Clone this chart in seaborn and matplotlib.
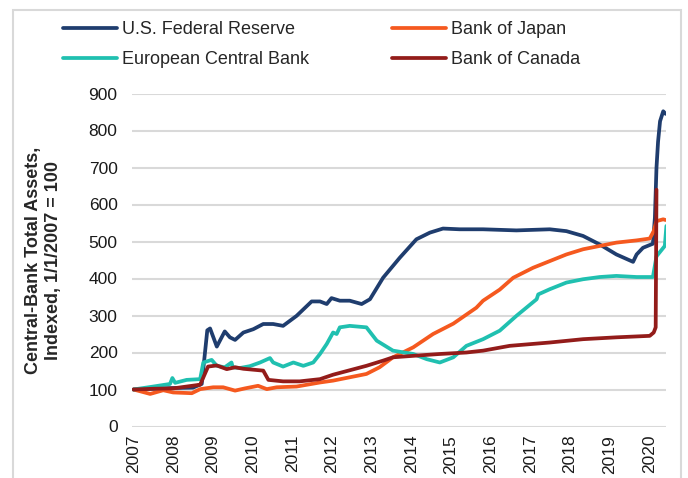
import pandas as pd
import matplotlib.pyplot as plt
import matplotlib.patches as mpatches
import seaborn as sns

# values (year as decimal, index 1/1/2007 = 100)
fed_x = [2007.0, 2007.5, 2008.0, 2008.5, 2008.72, 2008.86, 2008.93, 2009.10, 2009.30, 2009.43,
         2009.56, 2009.77, 2010.02, 2010.27, 2010.52, 2010.77, 2011.11, 2011.49, 2011.70, 2011.87,
         2011.99, 2012.20, 2012.45, 2012.75, 2012.96, 2013.29, 2013.71, 2014.13, 2014.47, 2014.80,
         2015.22, 2015.81, 2016.65, 2017.49, 2017.91, 2018.33, 2018.75, 2019.17, 2019.59, 2019.68,
         2019.84, 2020.09, 2020.14, 2020.18, 2020.22, 2020.27, 2020.35, 2020.41]
fed_y = [100, 102, 104, 105, 115, 260, 265, 216, 257, 241,
         234, 254, 263, 277, 277, 272, 299, 338, 338, 331,
         347, 340, 340, 331, 344, 402, 456, 506, 524, 535,
         533, 533, 530, 533, 528, 515, 492, 465, 445, 465,
         483, 494, 564, 699, 770, 825, 852, 845]

boj_x = [2007.0, 2007.42, 2007.75, 2008.0, 2008.47, 2008.68, 2009.01, 2009.26, 2009.56, 2009.81,
         2010.14, 2010.36, 2010.61, 2011.11, 2011.70, 2012.03, 2012.87, 2013.20, 2013.54, 2014.05,
         2014.55, 2015.06, 2015.64, 2015.81, 2016.23, 2016.57, 2017.07, 2017.49, 2017.91, 2018.33,
         2018.75, 2019.17, 2019.68, 2020.01, 2020.11, 2020.18, 2020.35, 2020.41]
boj_y = [100, 88, 98, 92, 90, 101, 106, 106, 97, 103,
         110, 101, 106, 108, 119, 124, 142, 160, 187, 214,
         250, 278, 321, 340, 370, 402, 429, 447, 465, 479,
         488, 497, 503, 508, 528, 555, 560, 558]

ecb_x = [2007.0, 2007.50, 2007.92, 2007.98, 2008.05, 2008.34, 2008.68, 2008.76, 2008.97, 2009.10,
         2009.30, 2009.47, 2009.50, 2009.68, 2009.93, 2010.19, 2010.44, 2010.52, 2010.77, 2011.03,
         2011.28, 2011.53, 2011.70, 2011.87, 2012.03, 2012.12, 2012.20, 2012.45, 2012.87, 2013.13,
         2013.54, 2014.05, 2014.39, 2014.72, 2015.06, 2015.39, 2015.81, 2016.23, 2016.65, 2017.16,
         2017.20, 2017.49, 2017.91, 2018.33, 2018.75, 2019.17, 2019.68, 2020.09, 2020.18, 2020.39,
         2020.43]
ecb_y = [100, 108, 115, 131, 118, 126, 128, 173, 180, 164,
         160, 173, 160, 158, 163, 173, 185, 173, 162, 173,
         164, 173, 196, 223, 254, 250, 268, 272, 268, 232,
         205, 196, 182, 173, 187, 218, 236, 259, 299, 344,
         357, 371, 389, 398, 404, 407, 404, 404, 460, 488,
         542]

boc_x = [2007.0, 2007.5, 2008.0, 2008.34, 2008.68, 2008.88, 2009.10, 2009.35, 2009.56, 2009.77,
         2010.27, 2010.40, 2010.77, 2011.19, 2011.70, 2012.03, 2012.87, 2013.29, 2013.54, 2014.05,
         2014.72, 2015.39, 2015.81, 2016.48, 2017.49, 2018.33, 2019.17, 2020.01, 2020.11, 2020.16,
         2020.18]
boc_y = [100, 102, 103, 108, 113, 162, 165, 155, 160, 156,
         151, 126, 122, 122, 128, 140, 164, 178, 187, 191,
         196, 200, 205, 218, 227, 236, 241, 245, 254, 268,
         640]

banks = ["U.S. Federal Reserve", "Bank of Japan", "European Central Bank", "Bank of Canada"]
colors = ["#1F3D6E", "#F5591F", "#20C0B0", "#931C1A"]
years = list(range(2007, 2021))

frames = []
for name, xs, ys in zip(banks, [fed_x, boj_x, ecb_x, boc_x], [fed_y, boj_y, ecb_y, boc_y]):
    frames.append(pd.DataFrame({"year": xs, "value": ys, "bank": name}))
df = pd.concat(frames, ignore_index=True)

sns.set_style("white")
plt.rcParams["font.family"] = ["Liberation Sans", "DejaVu Sans"]

fig = plt.figure(figsize=(6.88, 4.78), dpi=100)
ax = fig.add_axes([131.5 / 688, 1 - 426.5 / 478, (666 - 131.5) / 688, 333 / 478])

sns.lineplot(data=df, x="year", y="value", hue="bank", hue_order=banks,
             palette=dict(zip(banks, colors)), estimator=None, sort=False,
             linewidth=2.7, legend=False, ax=ax)

ax.set_xlim(2006.95, 2020.42)
ax.set_ylim(0, 900)
ax.set_yticks(range(0, 901, 100))
ax.set_xticks(years)
ax.set_xticklabels([str(y) for y in years], rotation=90)
ax.tick_params(axis="y", length=0, pad=10, labelsize=12.5, colors="#1a1a1a")
ax.tick_params(axis="x", length=0, pad=6, labelsize=12.5, colors="#1a1a1a")
ax.yaxis.grid(True, color="#d9d9d9", linewidth=1.5)
ax.set_axisbelow(True)
for s in ax.spines.values():
    s.set_visible(False)
ax.set_xlabel("")
ax.set_ylabel("Central-Bank Total Assets,\nIndexed, 1/1/2007 = 100",
              fontsize=13, fontweight="bold")
ax.yaxis.set_label_coords(-0.13, 0.5)

handles = ax.get_lines()[:4]
order = [0, 2, 1, 3]
fig.legend([handles[i] for i in order], [banks[i] for i in order], ncol=2,
           loc="upper left", bbox_to_anchor=(63 / 688, 1 - 21 / 478),
           frameon=False, fontsize=13, handlelength=3.0, handletextpad=0.25,
           columnspacing=4.6, labelspacing=0.72, borderpad=0, borderaxespad=0)

# light grey frame around the whole chart
fig.patches.append(mpatches.Rectangle((12.5 / 688, -0.1), (681 - 12.5) / 688, 1.1 - 10 / 478,
                                      transform=fig.transFigure, fill=False,
                                      edgecolor="#d9d9d9", linewidth=1.5))

fig.savefig("out.png", dpi=100)
